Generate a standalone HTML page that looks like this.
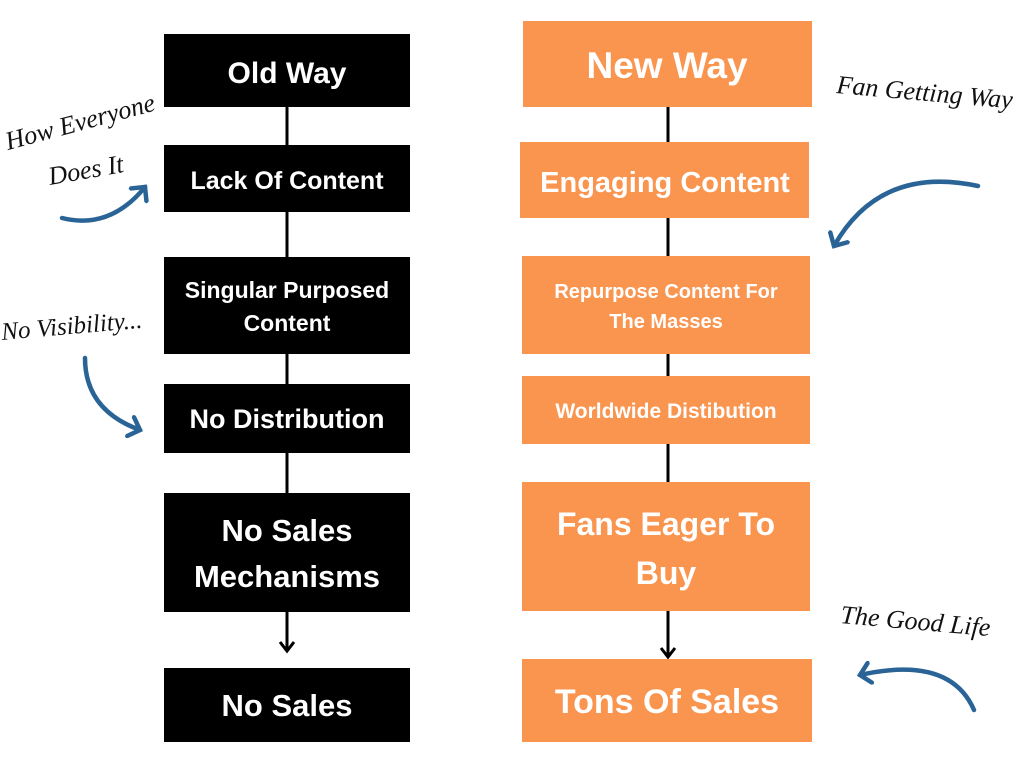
<!DOCTYPE html>
<html><head><style>
body{margin:0;width:1024px;height:768px;background:#fff;overflow:hidden}
svg{display:block}
.b{font-family:"Liberation Sans",sans-serif;font-weight:bold;fill:#fff;text-anchor:middle}
.s{font-family:"Liberation Serif",serif;font-style:italic;fill:#111}
</style></head><body>
<svg width="1024" height="768" viewBox="0 0 1024 768">
<defs>
<marker id="ah" markerWidth="20" markerHeight="24" refX="12" refY="12" orient="auto" markerUnits="userSpaceOnUse"><path d="M2,2 L12,12 L2,22" fill="none" stroke="#2a6496" stroke-width="4.5" stroke-linecap="round"/></marker>
</defs>
<line x1="287" y1="100" x2="287" y2="650" stroke="#000" stroke-width="3"/>
<path d="M280,642 L287,651 L294,642" fill="none" stroke="#000" stroke-width="3"/>
<line x1="668" y1="100" x2="668" y2="656" stroke="#000" stroke-width="3"/>
<path d="M661,648 L668,657 L675,648" fill="none" stroke="#000" stroke-width="3"/>
<g fill="#000">
<rect x="164" y="34" width="246" height="73"/>
<rect x="164" y="145" width="246" height="67"/>
<rect x="164" y="257" width="246" height="97"/>
<rect x="164" y="384" width="246" height="69"/>
<rect x="164" y="493" width="246" height="119"/>
<rect x="164" y="668" width="246" height="74"/>
</g>
<text class="b" x="287" y="83" font-size="30">Old Way</text>
<text class="b" x="287" y="189" font-size="25">Lack Of Content</text>
<text class="b" x="287" y="298" font-size="23">Singular Purposed</text>
<text class="b" x="287" y="331" font-size="23">Content</text>
<text class="b" x="287" y="428" font-size="27">No Distribution</text>
<text class="b" x="287" y="541" font-size="31">No Sales</text>
<text class="b" x="287" y="587" font-size="31">Mechanisms</text>
<text class="b" x="287" y="716" font-size="31">No Sales</text>
<g fill="#fa9550">
<rect x="523" y="21" width="289" height="86"/>
<rect x="520" y="142" width="289" height="76"/>
<rect x="522" y="256" width="288" height="98"/>
<rect x="522" y="376" width="288" height="68"/>
<rect x="522" y="482" width="288" height="129"/>
<rect x="522" y="659" width="290" height="83"/>
</g>
<text class="b" x="667" y="78" font-size="37">New Way</text>
<text class="b" x="665" y="192" font-size="29">Engaging Content</text>
<text class="b" x="666" y="298" font-size="20">Repurpose Content For</text>
<text class="b" x="666" y="328" font-size="20">The Masses</text>
<text class="b" x="666" y="418" font-size="21">Worldwide Distibution</text>
<text class="b" x="666" y="535" font-size="32">Fans Eager To</text>
<text class="b" x="666" y="584" font-size="32">Buy</text>
<text class="b" x="667" y="713" font-size="34">Tons Of Sales</text>
<text class="s" font-size="26" transform="translate(8,150) rotate(-15)">How Everyone</text>
<text class="s" font-size="26" transform="translate(50,185) rotate(-10)">Does It</text>
<text class="s" font-size="25" transform="translate(2,340) rotate(-5)">No Visibility...</text>
<text class="s" font-size="26" transform="translate(836,93) rotate(5)">Fan Getting Way</text>
<text class="s" font-size="26" transform="translate(840,623) rotate(5)">The Good Life</text>
<g fill="none" stroke="#2a6496" stroke-width="4.5" stroke-linecap="round">
<path d="M62,218 Q110,230 145,187" marker-end="url(#ah)"/>
<path d="M85,358 Q85,410 140,430" marker-end="url(#ah)"/>
<path d="M978,186 Q880,165 834,246" marker-end="url(#ah)"/>
<path d="M974,710 Q950,655 860,675" marker-end="url(#ah)"/>
</g>
</svg>
</body></html>
